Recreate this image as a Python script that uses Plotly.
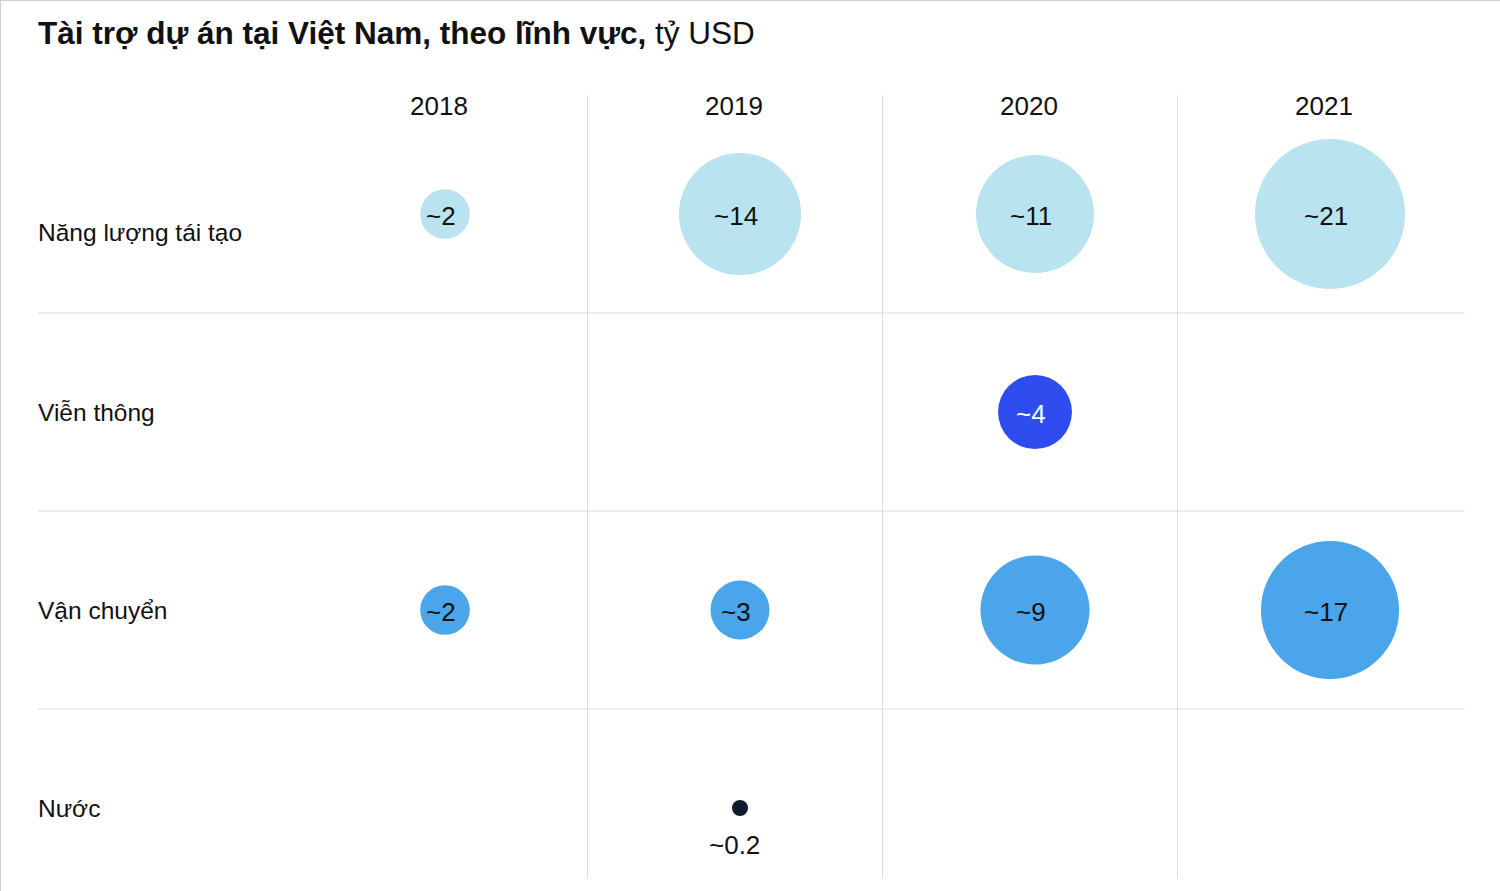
import plotly.graph_objects as go

# ---------------- data ----------------
sectors = ["Năng lượng tái tạo", "Viễn thông", "Vận chuyển", "Nước"]
years = ["2018", "2019", "2020", "2021"]

# one record per bubble
rec_sector = ["Năng lượng tái tạo"] * 4 + ["Viễn thông"] + ["Vận chuyển"] * 4 + ["Nước"]
rec_year = ["2018", "2019", "2020", "2021", "2020", "2018", "2019", "2020", "2021", "2019"]
rec_label = ["~2", "~14", "~11", "~21", "~4", "~2", "~3", "~9", "~17", "~0.2"]
# bubble magnitudes (tỷ USD)
rec_size = [2.3, 13.9, 13.0, 21.0, 5.1, 2.3, 3.25, 11.1, 17.8, 0.24]

sector_colors = {
    "Năng lượng tái tạo": "#b9e3ee",
    "Viễn thông": "#2f4cee",
    "Vận chuyển": "#4ba5ea",
    "Nước": "#0c1c2e",
}
sector_text_colors = {
    "Năng lượng tái tạo": "#111111",
    "Viễn thông": "#ffffff",
    "Vận chuyển": "#111111",
    "Nước": "#111111",
}

# ---------------- layout helpers ----------------
W, H = 1500, 891
FONT = "Liberation Sans, Arial, Helvetica, sans-serif"
GRID = "#dcdcdc"

xi = {y: i for i, y in enumerate(years)}
yi = {s: j for j, s in enumerate(sectors)}

fig = go.Figure()

for s in sectors:
    idx = [k for k, r in enumerate(rec_sector) if r == s]
    xs = [xi[rec_year[k]] for k in idx]
    ys = [yi[s] for k in idx]
    sz = [rec_size[k] for k in idx]
    fig.add_trace(go.Scatter(
        x=xs, y=ys, mode="markers",
        marker=dict(size=sz, sizemode="area", sizeref=21.0 / 2 / 75 ** 2,
                    color=sector_colors[s], line=dict(width=0), opacity=1),
        hoverinfo="skip", showlegend=False, cliponaxis=False,
    ))
    for k in idx:
        small = rec_size[k] < 1
        fig.add_annotation(x=xi[rec_year[k]], y=yi[s], text=rec_label[k],
                           showarrow=False, yshift=-37 if small else -2,
                           xshift=-6 if small else -4,
                           font=dict(family=FONT, size=26,
                                     color="#111111" if small else sector_text_colors[s]))

# grid lines
for j in range(len(sectors) - 1):
    fig.add_shape(type="line", xref="paper", yref="y",
                  x0=38 / W, x1=1465 / W, y0=j + 0.5, y1=j + 0.5,
                  line=dict(color=GRID, width=1), layer="below")
for i in range(len(years) - 1):
    fig.add_shape(type="line", xref="x", yref="y",
                  x0=i + 0.483, x1=i + 0.483, y0=-0.6, y1=3.355,
                  line=dict(color=GRID, width=1), layer="below")

# year headers
for y in years:
    fig.add_annotation(x=xi[y], y=-0.545, text=y, showarrow=False, xshift=-6,
                       font=dict(family=FONT, size=26, color="#111111"))

# row labels
for s in sectors:
    fig.add_annotation(xref="paper", x=36 / W, y=yi[s], text=s, showarrow=False,
                       xanchor="left", yshift=-18 if yi[s] == 0 else 0,
                       font=dict(family=FONT, size=24.5, color="#111111"))

# title
fig.add_annotation(xref="paper", yref="paper", x=36 / W, y=1 - 33 / H,
                   xanchor="left", yanchor="middle", showarrow=False,
                   text="<b>Tài trợ dự án tại Việt Nam, theo lĩnh vực,</b> tỷ USD",
                   font=dict(family=FONT, size=31.5, color="#111111"))

# border (top / left)
fig.add_shape(type="line", xref="paper", yref="paper", x0=0, x1=1, y0=1, y1=1,
              line=dict(color="#cfcfcf", width=2))
fig.add_shape(type="line", xref="paper", yref="paper", x0=0, x1=0, y0=0, y1=1,
              line=dict(color="#cfcfcf", width=2))

fig.update_xaxes(range=[(0 - 445) / 295, (W - 445) / 295], visible=False, fixedrange=True)
fig.update_yaxes(range=[(H - 214) / 198, (0 - 214) / 198], visible=False, fixedrange=True)
fig.update_layout(width=W, height=H, autosize=False,
                  margin=dict(l=0, r=0, t=0, b=0),
                  paper_bgcolor="white", plot_bgcolor="white",
                  font=dict(family=FONT))

fig.write_html("out.html")
